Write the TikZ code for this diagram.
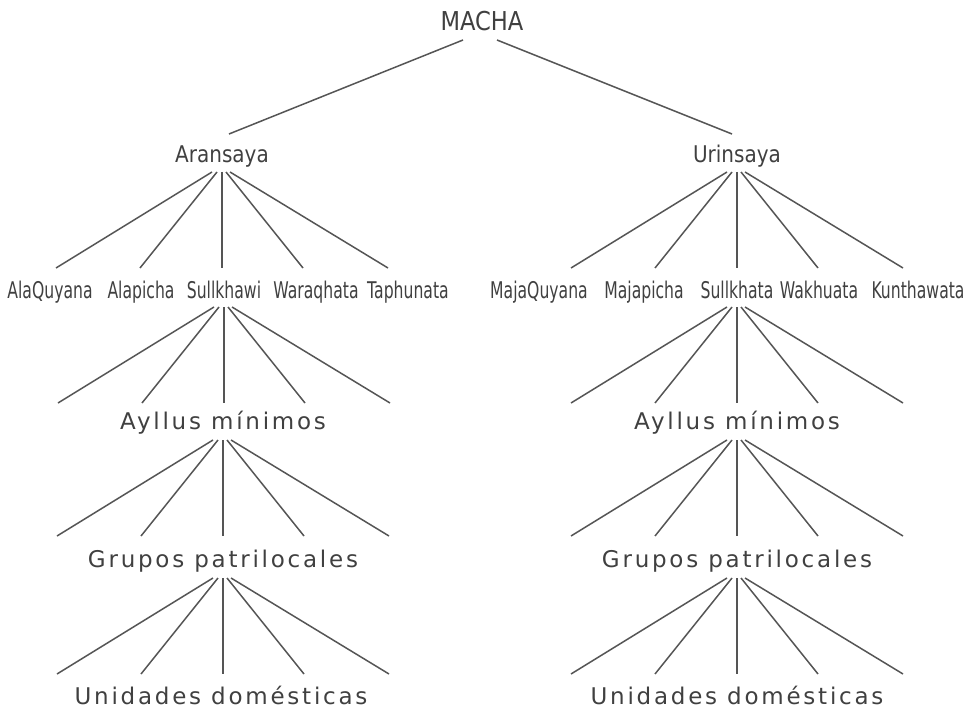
\documentclass[tikz,border=0pt]{standalone}
\usepackage{fontspec}
\usepackage{xcolor}
\setmainfont{DejaVu Sans}
\newfontfamily\wideface{DejaVu Sans}[FakeStretch=0.87]
\newfontfamily\narrowface{DejaVu Sans}[FakeStretch=0.68]
\newfontfamily\spacedface{DejaVu Sans}[LetterSpace=12]
\definecolor{txt}{HTML}{404040}
\definecolor{ln}{HTML}{555555}

% fan of five lines under a node: #1 node, #2 gap below its baseline
\newcommand{\fan}[2]{%
  \foreach \s/\e/\i in {-10/-166/1,-5/-82/2,0/0/3,4/81/4,8/166/5}
    \draw[link] ([xshift=\s pt,yshift=-#2 pt]#1.base) -- ++({\e-(\s)},96) coordinate (#1-\i);
}

\begin{document}
\begin{tikzpicture}[x=1pt,y=-1pt,
  every node/.style={anchor=base,inner sep=0pt,text=txt},
  top/.style={font=\wideface\fontsize{26}{30}\selectfont},
  moiety/.style={font=\wideface\fontsize{23}{27}\selectfont},
  ayllu/.style={font=\narrowface\fontsize{23}{27}\selectfont},
  level/.style={font=\spacedface\fontsize{23}{27}\selectfont},
  link/.style={draw=ln,line width=1.5pt}]
\useasboundingbox (0,0) rectangle (973,711);

\node[top] (macha) at (482,31) {MACHA};
\node[moiety] (aran) at (222,163) {Aransaya};
\node[moiety] (urin) at (737,163) {Urinsaya};

\draw[link] ([xshift=-19pt,yshift=-9pt]macha.base) -- ([xshift=7pt,yshift=29pt]aran.base);
\draw[link] ([xshift=15pt,yshift=-9pt]macha.base) -- ([xshift=-5pt,yshift=29pt]urin.base);

% Aransaya side
\node[ayllu] (a1) at (50,298) {AlaQuyana};
\node[ayllu] (a2) at (141,298) {Alapicha};
\node[ayllu] (a3) at (224,298) {Sullkhawi};
\node[ayllu] (a4) at (316,298) {Waraqhata};
\node[ayllu] (a5) at (408,298) {Taphunata};
\node[level] (amin) at (223,429) {Ayllus mínimos};
\node[level] (apat) at (223,567) {Grupos patrilocales};
\node[level] (adom) at (221,704) {Unidades domésticas};

% Urinsaya side
\node[ayllu] (u1) at (539,298) {MajaQuyana};
\node[ayllu] (u2) at (644,298) {Majapicha};
\node[ayllu] (u3) at (737,298) {Sullkhata};
\node[ayllu] (u4) at (819,298) {Wakhuata};
\node[ayllu] (u5) at (918,298) {Kunthawata};
\node[level] (umin) at (737,429) {Ayllus mínimos};
\node[level] (upat) at (737,567) {Grupos patrilocales};
\node[level] (udom) at (737,704) {Unidades domésticas};

\fan{aran}{9}
\fan{a3}{9}
\fan{amin}{11}
\fan{apat}{11}
\fan{urin}{9}
\fan{u3}{9}
\fan{umin}{11}
\fan{upat}{11}
\end{tikzpicture}
\end{document}
